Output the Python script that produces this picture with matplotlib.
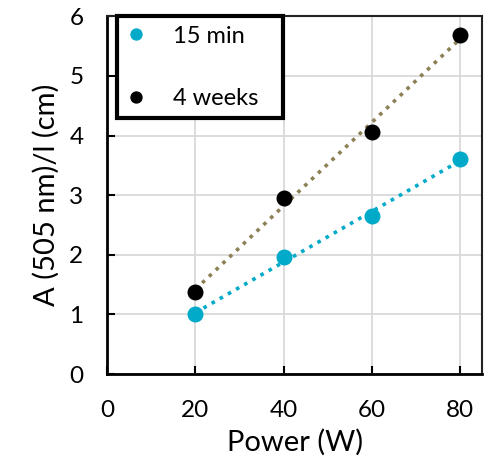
import numpy as np
import matplotlib
matplotlib.use("Agg")
import matplotlib.pyplot as plt

plt.rcParams.update({
    "font.family": ["Lato", "DejaVu Sans"],
    "font.size": 16,
})

power = [20, 40, 60, 80]
a_15min = [1.0, 1.96, 2.65, 3.6]
a_4weeks = [1.38, 2.96, 4.06, 5.68]

CYAN = "#00aac8"
OLIVE = "#8c8055"

fig = plt.figure(figsize=(4.89, 4.63), dpi=100)
ax = fig.add_axes([0.219, 0.192, 0.767, 0.773])

# dotted linear trendlines
for ys, col in [(a_15min, CYAN), (a_4weeks, OLIVE)]:
    k, b = np.polyfit(power, ys, 1)
    xs = np.array([power[0], power[-1]])
    ax.plot(xs, k * xs + b, ls=(0, (1, 1.6)), lw=2.6, color=col, zorder=2)

ax.plot(power, a_15min, "o", ms=10.5, color=CYAN, label="15 min", zorder=3)
ax.plot(power, a_4weeks, "o", ms=10.5, color="black", label="4 weeks", zorder=3)

ax.set_xlim(0, 85)
ax.set_ylim(0, 6)
ax.set_xticks([0, 20, 40, 60, 80])
ax.set_yticks(range(7))
ax.grid(True, color="#d9d9d9", lw=1.3)
ax.set_axisbelow(True)
ax.tick_params(direction="in", length=6, width=1.5, labelsize=17.5)
ax.tick_params(axis="x", pad=19)
ax.tick_params(axis="y", pad=17)
for s in ["left", "bottom"]:
    ax.spines[s].set_linewidth(2)
    ax.spines[s].set_color("black")
for s in ["top", "right"]:
    ax.spines[s].set_linewidth(1.5)
    ax.spines[s].set_color("#222222")

ax.set_xlabel("Power (W)", fontsize=21, labelpad=5)
ax.set_ylabel("A (505 nm)/l (cm)", fontsize=21, labelpad=7)

leg = ax.legend(loc="upper left", bbox_to_anchor=(0.027, 0.0, 0.443, 1.0),
                mode="expand", fontsize=17,
                frameon=True, fancybox=False, edgecolor="black",
                framealpha=1, handlelength=0.8, handletextpad=1.15,
                labelspacing=1.75, borderpad=0.4, borderaxespad=0,
                markerscale=0.75)
leg.get_frame().set_linewidth(3)

fig.savefig("out.png", dpi=100)
